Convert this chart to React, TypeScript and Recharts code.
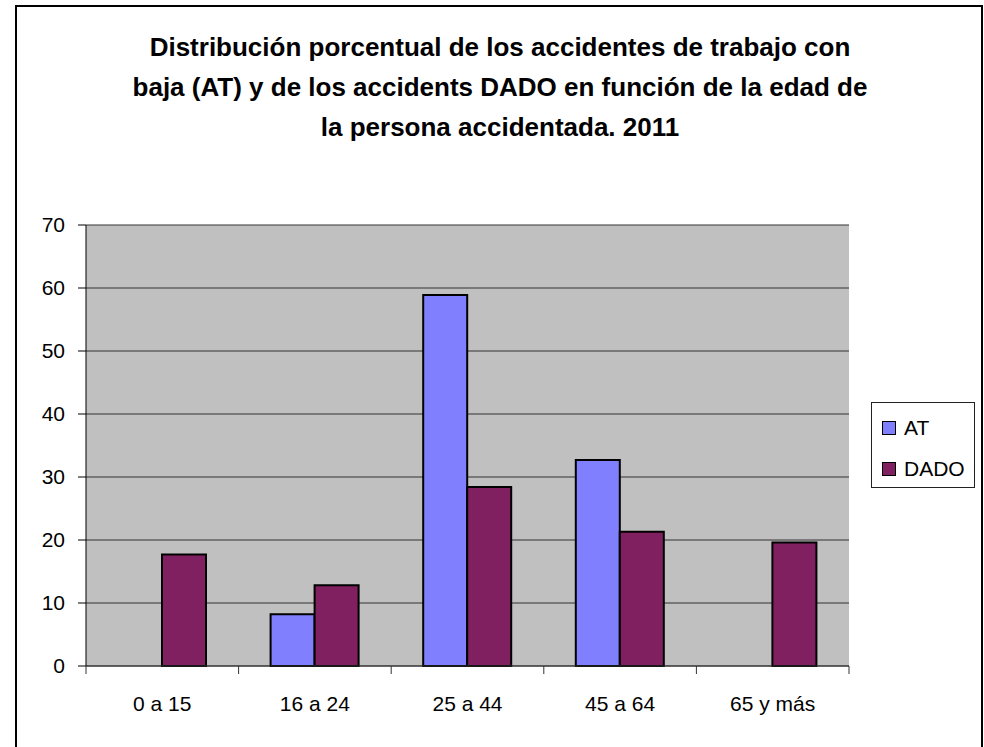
import React from 'react';
import { BarChart, Bar, XAxis, YAxis, CartesianGrid } from 'recharts';

const categories = ['0 a 15', '16 a 24', '25 a 44', '45 a 64', '65 y más'];
const atValues = [0, 8.2, 58.9, 32.7, 0];
const dadoValues = [17.7, 12.8, 28.4, 21.3, 19.6];
const yTicks = [0, 10, 20, 30, 40, 50, 60, 70];
const seriesNames = ['AT', 'DADO'];
const titleLines = [
  'Distribución porcentual de los accidentes de trabajo con',
  'baja (AT) y de los accidents DADO en función de la edad de',
  'la persona accidentada. 2011',
];

const data = categories.map((c, i) => ({ cat: c, AT: atValues[i], DADO: dadoValues[i] }));

const W = 984;
const H = 747;
const MARGIN = { top: 225, right: 135, bottom: 41, left: 26 };
const Y_AXIS_W = 60;
const X_AXIS_H = 40;
const PLOT_W = W - MARGIN.left - MARGIN.right - Y_AXIS_W;
const BAND = PLOT_W / categories.length;
const COLORS = ['#8080ff', '#802060'];
const FONT = '"Liberation Sans", Arial, sans-serif';

const XTick = (props: any) => {
  const { x, y, payload, index } = props;
  return (
    <g>
      <line x1={x - BAND / 2} x2={x - BAND / 2} y1={y} y2={y + 8} stroke="#333" strokeWidth={1} />
      {index === categories.length - 1 && (
        <line x1={x + BAND / 2} x2={x + BAND / 2} y1={y} y2={y + 8} stroke="#333" strokeWidth={1} />
      )}
      <text x={x} y={y + 45} textAnchor="middle" fontSize={21} fill="#000" fontFamily={FONT}>
        {payload.value}
      </text>
    </g>
  );
};

const LegendBox = () => (
  <div
    style={{
      position: 'absolute',
      left: 871,
      top: 402,
      width: 104,
      height: 86,
      border: '1px solid #222',
      background: '#fff',
      boxSizing: 'border-box',
      fontFamily: FONT,
    }}
  >
    {seriesNames.map((n, i) => (
      <div key={n} style={{ position: 'absolute', left: 10, top: i === 0 ? 13 : 54, display: 'flex', alignItems: 'center' }}>
        <div style={{ width: 12, height: 12, background: COLORS[i], border: '1.5px solid #000' }} />
        <span style={{ marginLeft: 8, fontSize: 21, lineHeight: '24px', color: '#000' }}>{n}</span>
      </div>
    ))}
  </div>
);

export default function App() {
  return (
    <div style={{ position: 'absolute', left: 0, top: 0, width: W, height: H, background: '#fff', overflow: 'hidden' }}>
      <div
        style={{
          position: 'absolute',
          left: 15,
          top: 5,
          width: 968,
          height: 780,
          border: '2px solid #000',
          boxSizing: 'border-box',
        }}
      />
      {titleLines.map((t, i) => (
        <div
          key={i}
          style={{
            position: 'absolute',
            left: 0,
            width: 1000,
            top: 31 + i * 40,
            textAlign: 'center',
            fontFamily: FONT,
            fontWeight: 'bold',
            fontSize: 26,
            lineHeight: '32px',
            color: '#000',
            whiteSpace: 'nowrap',
          }}
        >
          {t}
        </div>
      ))}
      <div style={{ position: 'absolute', left: 0, top: 0 }}>
        <BarChart width={W} height={H} data={data} margin={MARGIN} barSize={44} barGap={0}>
          <CartesianGrid horizontal={true} vertical={false} stroke="#333" fill="#c0c0c0" fillOpacity={1} />
          <XAxis
            dataKey="cat"
            height={X_AXIS_H}
            tickLine={false}
            tickSize={0}
            tickMargin={0}
            axisLine={{ stroke: '#333', strokeWidth: 1 }}
            tick={<XTick />}
            interval={0}
          />
          <XAxis
            xAxisId="top"
            dataKey="cat"
            orientation="top"
            height={0}
            tick={false}
            tickLine={false}
            axisLine={{ stroke: '#808080', strokeWidth: 2 }}
          />
          <YAxis
            width={Y_AXIS_W}
            domain={[0, 70]}
            ticks={yTicks}
            interval={0}
            tickSize={8}
            tickMargin={13}
            axisLine={{ stroke: '#000', strokeWidth: 1 }}
            tickLine={{ stroke: '#000', strokeWidth: 1 }}
            tick={{ fontSize: 21, fill: '#000', fontFamily: FONT }}
          />
          <YAxis
            yAxisId="right"
            orientation="right"
            width={0}
            domain={[0, 70]}
            tick={false}
            tickLine={false}
            axisLine={{ stroke: '#808080', strokeWidth: 2 }}
          />
          <Bar dataKey="AT" fill={COLORS[0]} stroke="#000" strokeWidth={2} isAnimationActive={false} />
          <Bar dataKey="DADO" fill={COLORS[1]} stroke="#000" strokeWidth={2} isAnimationActive={false} />
        </BarChart>
      </div>
      <LegendBox />
    </div>
  );
}
